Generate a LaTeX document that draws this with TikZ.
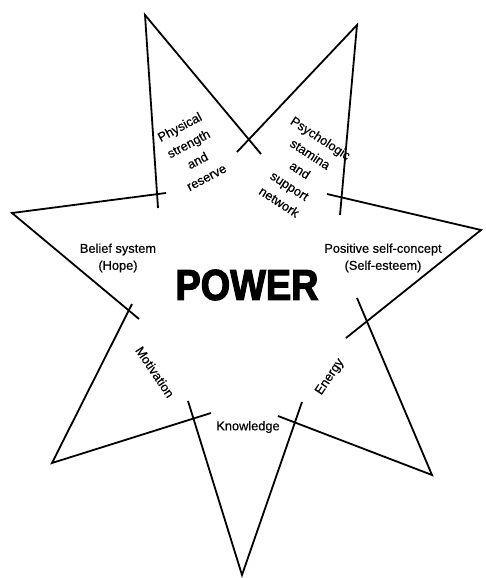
\documentclass[tikz,border=0pt]{standalone}
\usepackage{fontspec}
\setmainfont[FakeBold=0.4]{Liberation Sans}
\newfontfamily\powerfont[FakeBold=3]{Liberation Sans}

\begin{document}
\begin{tikzpicture}[
    x=1pt, y=-1pt,
    font=\fontsize{12.8}{19}\selectfont,
    leg/.style={draw=black, line width=1.8pt},
    starlabel/.style={align=center, inner sep=0pt},
    powertext/.style={inner sep=0pt, font=\powerfont\bfseries\fontsize{43}{43}\selectfont}
]
    \useasboundingbox (0,0) rectangle (485,578);

    % Pointes de l'etoile
    \coordinate (phys_tip)     at (145,15);
    \coordinate (phys_left)    at (158,208);
    \coordinate (phys_right)   at (261,154);

    \coordinate (psych_tip)    at (357,25);
    \coordinate (psych_left)   at (237,152);
    \coordinate (psych_right)  at (340,215);

    \coordinate (esteem_tip)   at (481,230);
    \coordinate (esteem_up)    at (327,194);
    \coordinate (esteem_low)   at (346,338);

    \coordinate (energy_tip)   at (432,475);
    \coordinate (energy_up)    at (357,298);
    \coordinate (energy_low)   at (278,416);

    \coordinate (know_tip)     at (242,575);
    \coordinate (know_right)   at (302,402);
    \coordinate (know_left)    at (188,401);

    \coordinate (motiv_tip)    at (52,463);
    \coordinate (motiv_low)    at (211,413);
    \coordinate (motiv_up)     at (132,304);

    \coordinate (belief_tip)   at (12,213);
    \coordinate (belief_up)    at (166,193);
    \coordinate (belief_low)   at (139,319);

    % Branches
    \draw[leg] (phys_left) -- (phys_tip) -- (phys_right);
    \draw[leg] (psych_left) -- (psych_tip) -- (psych_right);
    \draw[leg] (esteem_up) -- (esteem_tip) -- (esteem_low);
    \draw[leg] (energy_up) -- (energy_tip) -- (energy_low);
    \draw[leg] (know_right) -- (know_tip) -- (know_left);
    \draw[leg] (motiv_low) -- (motiv_tip) -- (motiv_up);
    \draw[leg] (belief_up) -- (belief_tip) -- (belief_low);

    % Textes
    \node[starlabel, rotate=28] (phys) at (193,152) {Physical\\strength\\and\\reserve};
    \node[starlabel, rotate=-33] (psych) at (300,170) {Psychologic\\stamina\\and\\support\\network};
    \node[starlabel, font=\fontsize{12.8}{17}\selectfont] (belief) at (118,258) {Belief system\\(Hope)};
    \node[starlabel, font=\fontsize{12.8}{17}\selectfont] (esteem) at (383,258) {Positive self-concept\\(Self-esteem)};
    \node[starlabel, rotate=-56] (motiv) at (155,372) {Motivation};
    \node[starlabel, rotate=56] (energy) at (330,377) {Energy};
    \node[starlabel] (know) at (248,427) {Knowledge};

    \node[powertext] (power) at (247,285) {\scalebox{0.88}[1]{POWER}};

\end{tikzpicture}
\end{document}
